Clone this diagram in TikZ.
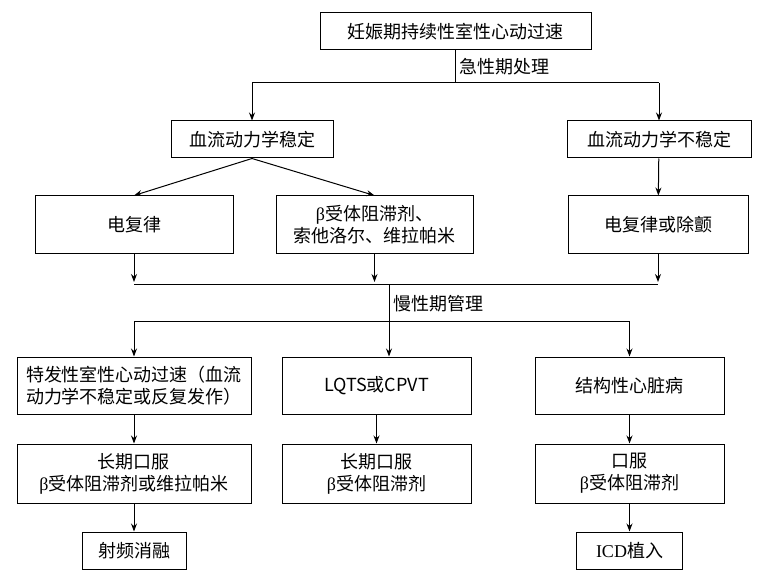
\documentclass[tikz,border=0pt]{standalone}
\usepackage{fontspec}
\setmainfont{Liberation Serif}
\newfontfamily\cjk{Noto Sans CJK SC}
\usetikzlibrary{arrows.meta, positioning}
\begin{document}
\begin{tikzpicture}[x=1pt, y=-1pt, font=\cjk\fontsize{18}{22}\selectfont,
  box/.style={draw, line width=1pt, inner sep=0pt, align=center},
  line/.style={draw, line width=1pt},
  arr/.style={line, -{Stealth[length=8pt, width=6pt]}}]
  \useasboundingbox (0,0) rectangle (769,588);

  % Acute stage
  \node [box, minimum width=271pt, minimum height=37pt] (start) at (455.5,31.5) {妊娠期持续性室性心动过速};
  \node [box, minimum width=162pt, minimum height=37pt] (stable) at (252,139.5) {血流动力学稳定};
  \node [box, minimum width=184pt, minimum height=37pt] (unstable) at (659,139.5) {血流动力学不稳定};
  \node [box, minimum width=198pt, minimum height=58pt] (cardio) at (134,225) {电复律};
  \node [box, minimum width=197pt, minimum height=58pt] (drugs) at (374.5,225) {{\fontspec{Liberation Serif}β}受体阻滞剂、\\索他洛尔、维拉帕米};
  \node [box, minimum width=180pt, minimum height=58pt] (defib) at (658,225) {电复律或除颤};

  % Chronic stage
  \node [box, minimum width=234pt, minimum height=57pt] (idio) at (134,385.5) {特发性室性心动过速（血流\\动力学不稳定或反复发作）};
  \node [box, minimum width=189pt, minimum height=57pt] (lqts) at (376.5,385.5) {LQTS{\cjk 或}CPVT};
  \node [box, minimum width=189pt, minimum height=57pt] (struct) at (629.5,385.5) {结构性心脏病};
  \node [box, minimum width=234pt, minimum height=59pt] (oralA) at (134,473.5) {长期口服\\{\fontspec{Liberation Serif}β}受体阻滞剂或维拉帕米};
  \node [box, minimum width=189pt, minimum height=59pt] (oralB) at (376.5,473.5) {长期口服\\{\fontspec{Liberation Serif}β}受体阻滞剂};
  \node [box, minimum width=189pt, minimum height=59pt] (oralC) at (629.5,473.5) {口服\\{\fontspec{Liberation Serif}β}受体阻滞剂};
  \node [box, minimum width=104pt, minimum height=37pt] (ablate) at (134,550.5) {射频消融};
  \node [box, minimum width=106pt, minimum height=37pt] (icd) at (629.5,550.5) {{\fontspec{Liberation Serif}ICD}植入};

  % Junctions
  \coordinate (split1) at (455.5,83);
  \coordinate (merge) at (389,285);
  \coordinate (split2) at (389,322);

  % Edges
  \path [line] (start) -- (split1) node [midway, right, inner sep=3pt] {急性期处理};
  \path [line] (252,83) -- (659,83);
  \draw [arr] (252,83) -- (stable);
  \draw [arr] (659,83) -- (unstable);
  \draw [arr] (stable.south) -- (cardio.north);
  \draw [arr] (stable.south) -- (drugs.north);
  \draw [arr] (unstable) -- (defib);
  \draw [arr] (cardio.south) -- (134,282);
  \draw [arr] (drugs.south) -- (374.5,282);
  \draw [arr] (defib.south) -- (658,282);
  \path [line] (134,285) -- (658,285);
  \path [line] (merge) -- (split2) node [midway, right, inner sep=4pt] {慢性期管理};
  \path [line] (134,322) -- (629.5,322);
  \draw [arr] (134,322) -- (idio);
  \draw [arr] (split2) -- (lqts.north -| split2);
  \draw [arr] (629.5,322) -- (struct);
  \draw [arr] (idio) -- (oralA);
  \draw [arr] (lqts) -- (oralB);
  \draw [arr] (struct) -- (oralC);
  \draw [arr] (oralA) -- (ablate);
  \draw [arr] (oralC) -- (icd);
\end{tikzpicture}
\end{document}
